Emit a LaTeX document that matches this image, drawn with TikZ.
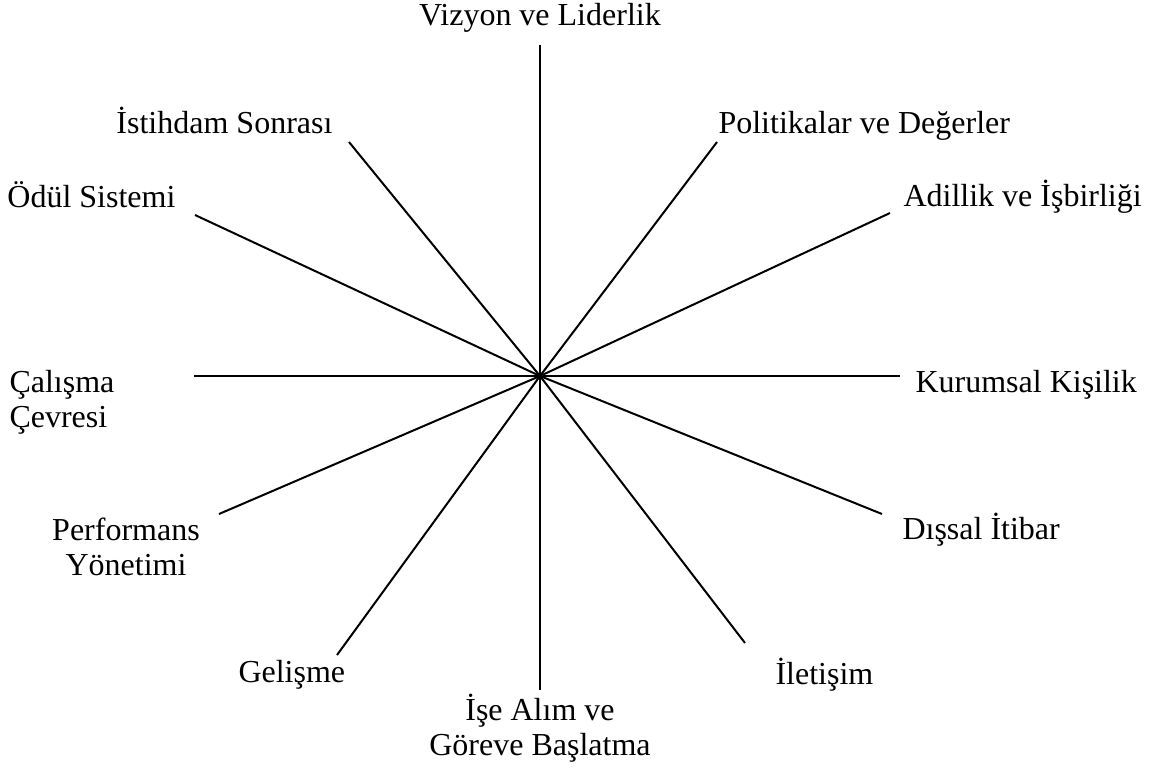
\documentclass[tikz,border=0pt]{standalone}
\usepackage{fontspec}
\setmainfont{Liberation Serif}
\usetikzlibrary{positioning}

\begin{document}
\begin{tikzpicture}[
        x=0.375pt,
        y=-0.375pt,
        spoke/.style={
            line width=0.75pt
        },
        itemtext/.style={
            font=\fontsize{12}{12.8}\selectfont,
            inner sep=0pt,
            align=center
        }
    ]

    \useasboundingbox (0,0) rectangle (1167,774);

    % hub and the free ends of the spokes
    \coordinate (hub) at (540,376);
    \coordinate (vizyonend) at (540,45);
    \coordinate (politikaend) at (717,142);
    \coordinate (adillikend) at (890,213);
    \coordinate (kurumsalend) at (900,376);
    \coordinate (itibarend) at (882,514);
    \coordinate (iletisimend) at (745,643);
    \coordinate (isealimend) at (540,690);
    \coordinate (gelismeend) at (337,655);
    \coordinate (performansend) at (219,514);
    \coordinate (calismaend) at (194,376);
    \coordinate (odulend) at (195,215);
    \coordinate (istihdamend) at (349,142);

    % labels (base of a two-line label is its last line)
    \node[itemtext, anchor=base] (vizyon) at (540,25)
        {Vizyon ve Liderlik};
    \node[itemtext, anchor=base west] (politika) at (718,133)
        {Politikalar ve Değerler};
    \node[itemtext, anchor=base west] (adillik) at (903,206)
        {Adillik ve İşbirliği};
    \node[itemtext, anchor=base west] (kurumsal) at (915,392)
        {Kurumsal Kişilik};
    \node[itemtext, anchor=base west] (itibar) at (902,539)
        {Dışsal İtibar};
    \node[itemtext, anchor=base west] (iletisim) at (775,684)
        {İletişim};
    \node[itemtext, anchor=base] (isealim) at (540,755)
        {İşe Alım ve\\ Göreve Başlatma};
    \node[itemtext, anchor=base west] (gelisme) at (238,682)
        {Gelişme};
    \node[itemtext, anchor=base] (performans) at (126,575)
        {Performans\\ Yönetimi};
    \node[itemtext, anchor=base west, align=left] (calisma) at (9,427)
        {Çalışma\\ Çevresi};
    \node[itemtext, anchor=base east] (odul) at (176,207)
        {Ödül Sistemi};
    \node[itemtext, anchor=base east] (istihdam) at (333,133)
        {İstihdam Sonrası};

    \foreach \e in {vizyonend, politikaend, adillikend, kurumsalend,
                    itibarend, iletisimend, isealimend, gelismeend,
                    performansend, calismaend, odulend, istihdamend}
        \draw[spoke] (hub) -- (\e);

\end{tikzpicture}
\end{document}
